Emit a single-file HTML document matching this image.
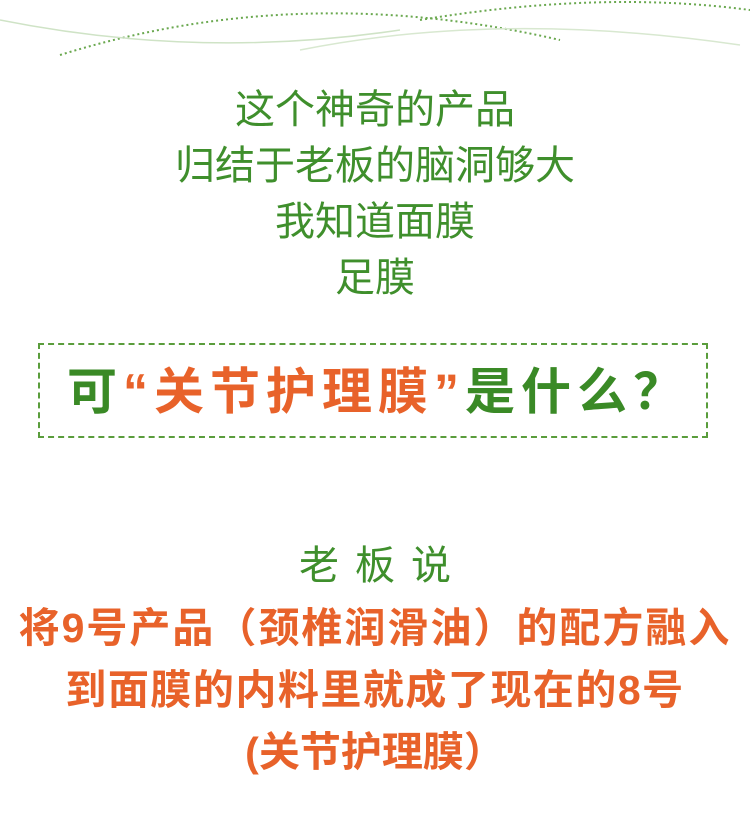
<!DOCTYPE html>
<html><head><meta charset="utf-8">
<style>
html,body{margin:0;padding:0;background:#fff;}
#page{position:relative;width:750px;height:820px;overflow:hidden;background:#fff;font-family:"Liberation Sans","Noto Sans CJK SC",sans-serif;}
.t{position:absolute;left:0;width:750px;text-align:center;white-space:nowrap;}
.g{color:#3f8f2c;font-size:40px;line-height:40px;}
.o{color:#e8622a;font-weight:bold;font-size:41px;line-height:44px;}
#box{position:absolute;left:38px;top:343px;width:670px;height:95px;border:2px dashed #5a9d3c;box-sizing:border-box;}
.title{position:absolute;left:0;top:364px;width:750px;text-align:center;font-weight:bold;font-size:50px;line-height:56px;color:#3a8a26;white-space:nowrap;letter-spacing:6px;padding-left:6px;box-sizing:border-box;}
.title span{color:#e8622a;}
</style></head><body>
<div id="page">
<svg width="750" height="70" style="position:absolute;left:0;top:0">
<path d="M60 55 Q300 -20 560 40" fill="none" stroke="#6aa84f" stroke-width="2" stroke-dasharray="2 3"/>
<path d="M420 20 Q600 -10 750 10" fill="none" stroke="#6aa84f" stroke-width="2" stroke-dasharray="2 3"/>
<path d="M0 20 Q200 60 400 30" fill="none" stroke="#cfe3c6" stroke-width="1.5"/>
<path d="M300 50 Q500 10 740 45" fill="none" stroke="#d8e8d0" stroke-width="1.5"/>
</svg>
<div class="t g" style="top:90px">这个神奇的产品</div>
<div class="t g" style="top:146px">归结于老板的脑洞够大</div>
<div class="t g" style="top:202px">我知道面膜</div>
<div class="t g" style="top:258px">足膜</div>
<div id="box"></div>
<div class="title">可<span>“关节护理膜”</span>是什么？</div>
<div class="t g" style="top:546px;letter-spacing:16px;padding-left:16px;box-sizing:border-box">老板说</div>
<div class="t o" style="top:606px;letter-spacing:2px">将9号产品（颈椎润滑油）的配方融入</div>
<div class="t o" style="top:668px;letter-spacing:1.5px">到面膜的内料里就成了现在的8号</div>
<div class="t o" style="top:730px">(关节护理膜）</div>
</div>
</body></html>
